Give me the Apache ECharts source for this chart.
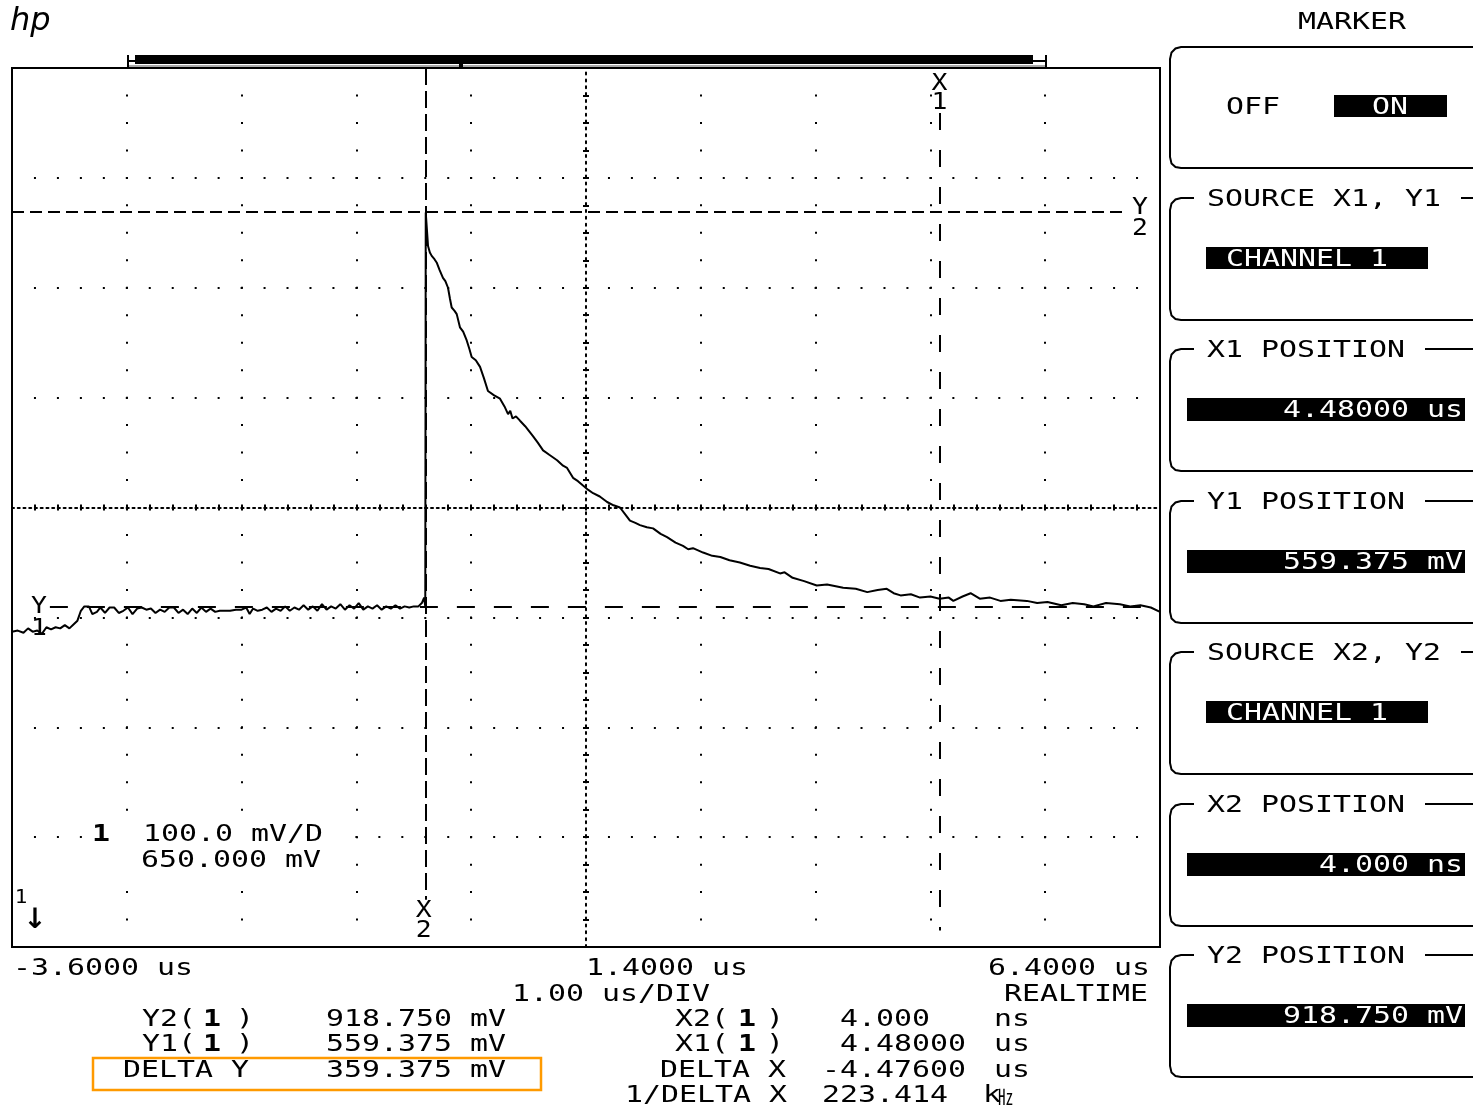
<!DOCTYPE html>
<html>
<head>
<meta charset="utf-8">
<title>HP scope - marker screen</title>
<script src="https://cdn.jsdelivr.net/npm/echarts@6/dist/echarts.min.js"></script>
<style>
  html, body { margin: 0; padding: 0; background: #fff; }
  #chart { width: 1473px; height: 1105px; }
</style>
</head>
<body>
<div id="chart"></div>
<script>
// channel 1 trace (time in us, level in mV)
const timeUs = [
  -3.60, -3.55, -3.50, -3.46, -3.42, -3.38, -3.34, -3.30, -3.26, -3.22,
  -3.18, -3.14, -3.10, -3.06, -3.03, -3.00, -2.97, -2.93, -2.90, -2.86,
  -2.83, -2.79, -2.75, -2.71, -2.67, -2.63, -2.59, -2.55, -2.51, -2.47,
  -2.43, -2.39, -2.35, -2.31, -2.27, -2.23, -2.19, -2.15, -2.11, -2.07,
  -2.03, -1.99, -1.95, -1.91, -1.87, -1.83, -1.79, -1.75, -1.70, -1.65,
  -1.60, -1.56, -1.53, -1.50, -1.46, -1.42, -1.38, -1.34, -1.30, -1.26,
  -1.22, -1.18, -1.14, -1.10, -1.06, -1.02, -0.98, -0.94, -0.90, -0.86,
  -0.82, -0.78, -0.74, -0.70, -0.66, -0.62, -0.58, -0.54, -0.50, -0.46,
  -0.42, -0.38, -0.34, -0.30, -0.26, -0.22, -0.18, -0.14, -0.10, -0.06,
  -0.03, -0.01, 0.000, 0.004, 0.024, 0.040, 0.056, 0.080, 0.099, 0.125,
  0.154, 0.175, 0.198, 0.215, 0.230, 0.255, 0.274, 0.302, 0.330, 0.361,
  0.385, 0.404, 0.440, 0.477, 0.510, 0.546, 0.600, 0.651, 0.690, 0.721,
  0.740, 0.760, 0.790, 0.825, 0.870, 0.938, 0.980, 1.026, 1.080, 1.148,
  1.200, 1.235, 1.287, 1.330, 1.374, 1.420, 1.462, 1.520, 1.584, 1.640,
  1.696, 1.740, 1.783, 1.830, 1.870, 1.930, 1.984, 2.050, 2.106, 2.180,
  2.245, 2.290, 2.332, 2.420, 2.500, 2.570, 2.650, 2.740, 2.830, 2.916,
  2.990, 3.090, 3.130, 3.200, 3.300, 3.410, 3.500, 3.640, 3.750, 3.850,
  3.940, 4.020, 4.080, 4.140, 4.230, 4.310, 4.400, 4.480, 4.560, 4.600,
  4.680, 4.750, 4.830, 4.920, 5.010, 5.100, 5.240, 5.330, 5.420, 5.540,
  5.640, 5.740, 5.820, 5.930, 6.050, 6.140, 6.230, 6.320, 6.400
];
const traceMv = [
  537, 538, 536, 540, 537, 538, 535, 541, 539, 541,
  540, 543, 540, 544, 547, 556, 560, 560, 553, 555,
  559, 554, 559, 559, 554, 556, 559, 553, 558, 559,
  557, 558, 554, 557, 555, 559, 559, 554, 557, 553,
  558, 554, 559, 555, 558, 555, 556, 556, 556, 557,
  557, 559, 553, 558, 556, 557, 559, 555, 558, 556,
  560, 556, 559, 557, 561, 557, 560, 556, 562, 557,
  560, 558, 562, 557, 561, 558, 563, 557, 560, 558,
  561, 557, 560, 558, 561, 558, 560, 559, 560, 560,
  563, 568, 560, 918.5, 888, 882, 879, 876, 873, 866,
  859, 856, 850, 840, 832, 829, 826, 814, 810, 802,
  794, 787, 784, 778, 768, 756, 752, 749, 742, 735,
  738, 731, 733, 729, 724, 715, 709, 702, 698, 693,
  688, 686, 677, 674, 670, 666, 663, 660, 655, 652,
  650, 644, 638, 636, 634, 632, 631, 626, 623, 618,
  615, 612, 613, 609, 606, 605, 602, 600, 597, 595,
  594, 590, 591, 586, 583, 579, 580, 577, 576, 573,
  575, 576, 572, 570, 571, 568, 569, 567, 568, 565,
  569, 572, 567, 568, 565, 566, 565, 563, 564, 561,
  563, 562, 560, 563, 562, 560, 561, 559, 555
];

// screen: 10 div x 1.00 us, 8 div x 100 mV around 650 mV
const timeMin = -3.6, timeMax = 6.4, timeDiv = 1;
const voltMin = 250, voltMax = 1050, voltDiv = 100;

// cursors
const markerX2 = 0.004, markerX1 = 4.48;
const markerY2 = 918.75, markerY1 = 559.375;
// where each dashed cursor line stops (leaves room for its tag)
const x2LineEnd = 293, x1LineEnd = 1009, y2LineEnd = 6.12, y1LineStart = -3.27;

// readouts under the screen
const voltReadNames = ['Y2(', 'Y1(', 'DELTA Y'];
const voltReadValues = ['918.750 mV', '559.375 mV', '359.375 mV'];
const timeReadNames = ['X2(', 'X1(', 'DELTA X', '1/DELTA X'];
const timeReadValues = ['4.000', '4.48000', '-4.47600', '223.414'];
const timeReadUnits = ['ns', 'us', 'us', 'k'];

// softkey menu
const softkeyTitles = ['SOURCE X1, Y1', 'X1 POSITION', 'Y1 POSITION', 'SOURCE X2, Y2', 'X2 POSITION', 'Y2 POSITION'];
const softkeyValues = ['CHANNEL 1', '4.48000 us', '559.375 mV', 'CHANNEL 1', '4.000 ns', '918.750 mV'];

const FONT = '23px "DejaVu Sans Mono", "Liberation Mono", monospace';
const BOLD = 'bold 23px "DejaVu Sans Mono", "Liberation Mono", monospace';
const SX = 1.3;
const PITCH = 18.0;

// y is the visual middle of the capitals; DejaVu sits a bit high on 'middle'
function txt(x, y, text, o) {
  o = o || {};
  const align = o.align || 'left';
  return {
    type: 'text', x: x, y: y + 2, scaleX: o.sx || SX, z: o.z || 100,
    style: {
      text: text, font: o.font || FONT, fill: o.fill || '#000',
      align: align, textAlign: align,
      verticalAlign: 'middle', textVerticalAlign: 'middle'
    }
  };
}
function line(x1, y1, x2, y2, w, c) {
  return { type: 'line', z: 90, shape: { x1, y1, x2, y2 }, style: { stroke: c || '#000', lineWidth: w || 2 } };
}
function box(x, y, w, h, fill, z) {
  return { type: 'rect', z: z || 95, shape: { x, y, width: w, height: h }, style: { fill: fill || '#000' } };
}
// softkey frame: open on the right, small rounded corners on the left
function frame(top, bottom, topStart) {
  return {
    type: 'polyline', z: 90,
    shape: { points: [
      [topStart, top], [1181, top], [1175.5, top + 1.5], [1171.5, top + 5.5], [1170, top + 12],
      [1170, bottom - 11], [1171.5, bottom - 4.5], [1175.5, bottom - 1], [1181, bottom], [1480, bottom]
    ] },
    style: { fill: null, stroke: '#000', lineWidth: 2 }
  };
}

const chart = echarts.init(document.getElementById('chart'));

const centerTick = { show: true, length: 3, lineStyle: { color: '#000', width: 2 } };

chart.setOption({
  animation: false,
  backgroundColor: '#fff',
  grid: [
    { left: 12, top: 68, width: 1148, height: 879, show: true, borderColor: '#000', borderWidth: 2, backgroundColor: 'transparent' },
    { left: 12, top: 68, width: 1148, height: 879, show: false }
  ],
  xAxis: [
    {
      gridIndex: 0, type: 'value', min: timeMin, max: timeMax, interval: timeDiv,
      axisLine: { show: false }, axisTick: { show: false }, axisLabel: { show: false },
      splitLine: { show: true, lineStyle: { color: '#000', width: 2, type: [2, 25.47], dashOffset: 1 } }
    },
    {
      gridIndex: 1, type: 'value', min: -5, max: 5, interval: 0.2,
      axisLine: { show: true, onZero: true, onZeroAxisIndex: 1, lineStyle: { color: '#000', width: 2, type: [2, 3.74] } },
      axisTick: centerTick, axisLabel: { show: false }, splitLine: { show: false }
    },
    {
      gridIndex: 1, type: 'value', position: 'top', min: -5, max: 5, interval: 0.2,
      axisLine: { show: true, onZero: true, onZeroAxisIndex: 2, lineStyle: { opacity: 0 } },
      axisTick: centerTick, axisLabel: { show: false }, splitLine: { show: false }
    }
  ],
  yAxis: [
    {
      gridIndex: 0, type: 'value', min: voltMin, max: voltMax, interval: voltDiv,
      axisLine: { show: false }, axisTick: { show: false }, axisLabel: { show: false },
      splitLine: { show: true, lineStyle: { color: '#000', width: 2, type: [2, 20.96], dashOffset: 1 } }
    },
    {
      gridIndex: 1, type: 'value', min: -4, max: 4, interval: 0.25,
      axisLine: { show: true, onZero: true, onZeroAxisIndex: 1, lineStyle: { color: '#000', width: 2, type: [2, 4.87] } },
      axisTick: centerTick, axisLabel: { show: false }, splitLine: { show: false }
    },
    {
      gridIndex: 1, type: 'value', position: 'right', min: -4, max: 4, interval: 0.25,
      axisLine: { show: true, onZero: true, onZeroAxisIndex: 2, lineStyle: { opacity: 0 } },
      axisTick: centerTick, axisLabel: { show: false }, splitLine: { show: false }
    }
  ],
  series: [{
    type: 'line', xAxisIndex: 0, yAxisIndex: 0, z: 5,
    data: timeUs.map((t, i) => [t, traceMv[i]]),
    showSymbol: false, symbol: 'none',
    lineStyle: { color: '#000', width: 2 },
    emphasis: { disabled: true },
    markLine: {
      silent: true, symbol: 'none', animation: false,
      label: { show: false },
      emphasis: { disabled: true },
      lineStyle: { color: '#000', width: 2 },
      data: [
        [{ coord: [markerX2, voltMax], lineStyle: { type: [17, 6] } }, { coord: [markerX2, x2LineEnd] }],
        [{ coord: [markerX1, x1LineEnd], lineStyle: { type: [17, 20] } }, { coord: [markerX1, 265] }],
        [{ coord: [timeMin, markerY2], lineStyle: { type: [12, 6] } }, { coord: [y2LineEnd, markerY2] }],
        [{ coord: [y1LineStart, markerY1], lineStyle: { type: [18, 19] } }, { coord: [timeMax, markerY1] }]
      ]
    }
  }]
});

// cursor tags placed from the axis scales
const px = v => chart.convertToPixel({ xAxisIndex: 0, yAxisIndex: 0 }, v);
const pX1 = px([markerX1, x1LineEnd]);
const pX2 = px([markerX2, x2LineEnd]);
const pY2 = px([y2LineEnd, markerY2]);
const pY1 = px([y1LineStart, markerY1]);
const TAG = { align: 'center', sx: 1.15 };

const g = [];
// hp logo
g.push({ type: 'text', x: 10, y: 22, z: 100, style: { text: 'hp', font: 'italic 300 32px "DejaVu Sans"', fill: '#000', align: 'left', textAlign: 'left', verticalAlign: 'middle', textVerticalAlign: 'middle' } });

// memory bar above the screen
g.push(box(135, 55, 898, 9));
g.push(line(128, 66, 1046, 66, 1, '#555'));
g.push(line(128, 55, 128, 67), line(128, 61, 135, 61));
g.push(line(1046, 55, 1046, 68), line(1033, 61, 1046, 61));
g.push(box(459, 62, 4, 5));

// cursor tags
g.push(txt(pX1[0], pX1[1] - 31, 'X', TAG), txt(pX1[0], pX1[1] - 12, '1', TAG));
g.push(txt(pX2[0] - 2, pX2[1] + 9, 'X', TAG), txt(pX2[0] - 2, pX2[1] + 29, '2', TAG));
g.push(txt(pY2[0] + 12, pY2[1] - 6, 'Y', TAG), txt(pY2[0] + 12, pY2[1] + 15, '2', TAG));
g.push(txt(pY1[0] - 11, pY1[1] - 2, 'Y', TAG), txt(pY1[0] - 11, pY1[1] + 20, '1', TAG));

// channel info inside the screen
g.push(box(90, 821, 246, 50, '#fff', 60));
g.push(txt(101, 833, '1', { font: BOLD, align: 'center' }));
g.push(txt(143, 833, '100.0 mV/D'));
g.push(txt(141, 859, '650.000 mV'));
g.push(txt(21, 896, '1', { font: '19px "DejaVu Sans Mono"', sx: 1.1, align: 'center' }));
g.push(txt(35, 919, '↓', { font: 'bold 28px "DejaVu Sans"', sx: 1, align: 'center' }));

// time base labels
g.push(txt(13, 967, '-3.6000 us'));
g.push(txt(586, 967, '1.4000 us'));
g.push(txt(1150, 967, '6.4000 us', { align: 'right' }));
g.push(txt(512, 993, '1.00 us/DIV'));
g.push(txt(1148, 993, 'REALTIME', { align: 'right' }));

// voltage readouts
const vNameX = [142, 142, 123];
voltReadNames.forEach((n, i) => {
  const y = 1018 + i * 25.5;
  g.push(txt(vNameX[i], y, n));
  if (n.endsWith('(')) {
    g.push(txt(212, y, '1', { font: BOLD, align: 'center' }));
    g.push(txt(236, y, ')'));
  }
  g.push(txt(326, y, voltReadValues[i]));
});
g.push({ type: 'rect', z: 100, shape: { x: 93, y: 1058, width: 448, height: 32 }, style: { fill: 'none', stroke: '#FF9A00', lineWidth: 2.5 } });

// time readouts
const tNameX = [675, 675, 660, 625];
const tValX = [840, 840, 822, 822];
const tUnitX = [994, 994, 994, 983];
timeReadNames.forEach((n, i) => {
  const y = 1018 + i * 25.4;
  g.push(txt(tNameX[i], y, n));
  if (n.endsWith('(')) {
    g.push(txt(747, y, '1', { font: BOLD, align: 'center' }));
    g.push(txt(766, y, ')'));
  }
  g.push(txt(tValX[i], y, timeReadValues[i]));
  g.push(txt(tUnitX[i], y, timeReadUnits[i]));
});
g.push(txt(998, 1094, '㎐', { font: '21px "Noto Sans CJK JP"', sx: 0.72 }));

// softkey menu on the right
g.push(txt(1352, 21, 'MARKER', { align: 'center' }));
g.push(frame(47, 168, 1480));
g.push(txt(1226, 106, 'OFF'));
g.push(box(1334, 95, 113, 22));
g.push(txt(1390, 106, 'ON', { align: 'center', fill: '#fff' }));

softkeyTitles.forEach((title, i) => {
  const top = Math.round(198 + i * 151.4);
  const bottom = top + 122;
  const titleEnd = 1207 + title.length * PITCH;
  g.push(frame(top, bottom, 1194));
  g.push(line(titleEnd + 20, top, 1480, top));
  g.push(txt(1207, top, title));
  const val = softkeyValues[i];
  if (val.startsWith('CHANNEL')) {
    g.push(box(1206, top + 49, 222, 22));
    g.push(txt(1226, top + 60, val, { fill: '#fff' }));
  } else {
    g.push(box(1187, top + 49, 278, 23));
    g.push(txt(1463, top + 60, val, { fill: '#fff', align: 'right' }));
  }
});

chart.setOption({ graphic: { elements: g } });
</script>
</body>
</html>
